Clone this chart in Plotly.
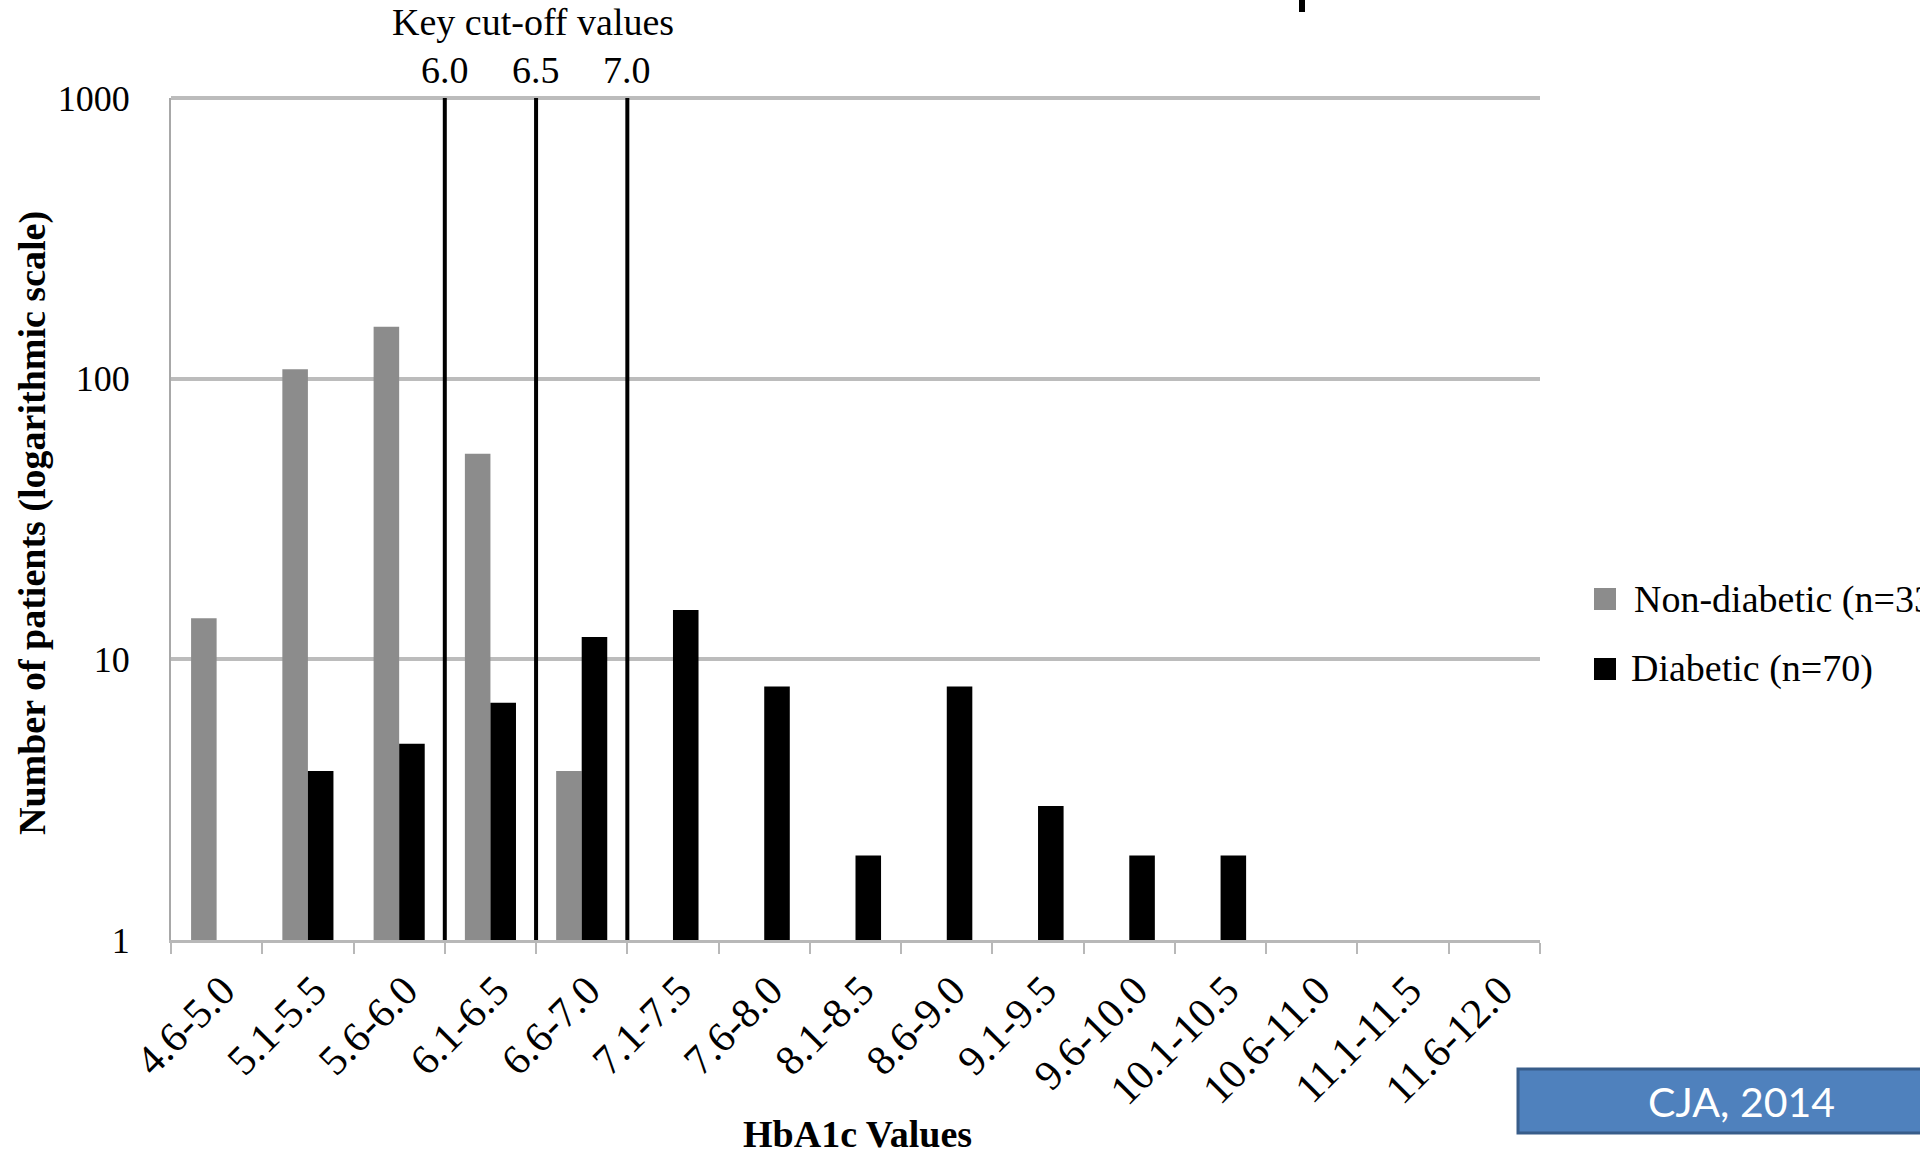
import plotly.graph_objects as go

# ---------------- data ----------------
categories = ["4.6-5.0", "5.1-5.5", "5.6-6.0", "6.1-6.5", "6.6-7.0", "7.1-7.5",
              "7.6-8.0", "8.1-8.5", "8.6-9.0", "9.1-9.5", "9.6-10.0", "10.1-10.5",
              "10.6-11.0", "11.1-11.5", "11.6-12.0"]
non_diabetic = [14, 108, 153, 54, 4, None, None, None, None, None, None, None, None, None, None]
diabetic = [None, 4, 5, 7, 12, 15, 8, 2, 8, 3, 2, 2, None, None, None]
cutoff_values = [6.0, 6.5, 7.0]
y_tick_values = [1, 10, 100, 1000]
series_names = ["Non-diabetic (n=333)", "Diabetic (n=70)"]

# ---------------- layout helpers ----------------
W, H = 1920, 1156
L, R, T, B = 171, 1540, 98, 940          # plot area in pixels


def px_x(p):
    return (p - L) / (R - L)


def px_y(p):
    return (B - p) / (B - T)


SERIF = "Liberation Serif"
GRAY = "#8c8c8c"
GRID = "#bcbcbc"

fig = go.Figure()
fig.add_trace(go.Bar(x=categories, y=non_diabetic, name=series_names[0],
                     marker=dict(color=GRAY, line=dict(width=0)), showlegend=False))
fig.add_trace(go.Bar(x=categories, y=diabetic, name=series_names[1],
                     marker=dict(color="#000000", line=dict(width=0)), showlegend=False))

shapes = []
annotations = []

# top gridline (at the top of the range)
shapes.append(dict(type="line", xref="paper", yref="y domain", x0=0, x1=1, y0=1, y1=1,
                   line=dict(color=GRID, width=4), layer="below"))

# cut-off lines at category boundaries
for v in cutoff_values:
    idx = [i for i, c in enumerate(categories) if abs(float(c.split("-")[1]) - v) < 1e-9][0]
    pos = idx + 0.5
    shapes.append(dict(type="line", xref="x", yref="y domain", x0=pos, x1=pos, y0=0, y1=1,
                       line=dict(color="#000000", width=4), layer="above"))
    annotations.append(dict(text=f"{v:.1f}", xref="x", yref="paper", x=pos, y=px_y(70),
                            showarrow=False, xanchor="center", yanchor="middle",
                            font=dict(family=SERIF, size=38, color="#000000")))

annotations.append(dict(text="Key cut-off values", xref="paper", yref="paper",
                        x=px_x(533), y=px_y(22), showarrow=False,
                        xanchor="center", yanchor="middle",
                        font=dict(family=SERIF, size=38, color="#000000")))

# axis titles
annotations.append(dict(text="<b>Number of patients (logarithmic scale)</b>", xref="paper", yref="paper",
                        x=px_x(32), y=px_y(523), showarrow=False, textangle=-90,
                        xanchor="center", yanchor="middle",
                        font=dict(family=SERIF, size=38, color="#000000")))
annotations.append(dict(text="<b>HbA1c Values</b>", xref="paper", yref="paper",
                        x=px_x(857), y=px_y(1156), showarrow=False,
                        xanchor="center", yanchor="bottom", borderpad=0,
                        font=dict(family=SERIF, size=38, color="#000000")))

# manual legend
legend_rows = [(599, GRAY, series_names[0], 1632), (669, "#000000", series_names[1], 1629)]
for cy, col, name, tx in legend_rows:
    shapes.append(dict(type="rect", xref="paper", yref="paper",
                       x0=px_x(1594), x1=px_x(1616), y0=px_y(cy + 11), y1=px_y(cy - 11),
                       fillcolor=col, line=dict(width=0)))
    annotations.append(dict(text=name, xref="paper", yref="paper", x=px_x(tx), y=px_y(cy),
                            showarrow=False, xanchor="left", yanchor="middle",
                            font=dict(family=SERIF, size=38, color="#000000")))

# CJA box
shapes.append(dict(type="rect", xref="paper", yref="paper",
                   x0=px_x(1518), x1=px_x(1930), y0=px_y(1133), y1=px_y(1069),
                   fillcolor="#4f81bd", line=dict(color="#385d8a", width=3)))
annotations.append(dict(text="CJA, 2014", xref="paper", yref="paper", x=px_x(1741), y=px_y(1101),
                        showarrow=False, xanchor="center", yanchor="middle",
                        font=dict(family="Lato", size=41, color="#ffffff")))

# fragment of cut-off title at top edge
shapes.append(dict(type="line", xref="paper", yref="paper",
                   x0=px_x(1302), x1=px_x(1302), y0=px_y(0), y1=px_y(12),
                   line=dict(color="#000000", width=6)))

fig.update_layout(
    width=W, height=H,
    margin=dict(l=L, r=W - R, t=T, b=H - B, autoexpand=False),
    paper_bgcolor="#ffffff", plot_bgcolor="#ffffff",
    barmode="group", bargap=0.44, bargroupgap=0,
    showlegend=False,
    shapes=shapes, annotations=annotations,
    xaxis=dict(type="category", categoryorder="array", categoryarray=categories,
               range=[-0.5, len(categories) - 0.5],
               showgrid=False, showline=True, linecolor="#b8b8b8", linewidth=3,
               ticks="outside", tickson="boundaries", ticklen=11, tickwidth=2, tickcolor="#b8b8b8",
               tickangle=-45, ticklabelstandoff=6, ticklabelshift=6,
               tickfont=dict(family=SERIF, size=42, color="#000000"),
               automargin=False, zeroline=False),
    yaxis=dict(type="log", range=[0, 3], tickvals=y_tick_values,
               ticktext=[str(v) for v in y_tick_values],
               showgrid=True, gridcolor=GRID, gridwidth=4,
               showline=True, linecolor="#a8a8a8", linewidth=2,
               ticks="", ticklabelstandoff=32,
               tickfont=dict(family=SERIF, size=36, color="#000000"),
               automargin=False, zeroline=False),
)

fig.write_html("out.html")
